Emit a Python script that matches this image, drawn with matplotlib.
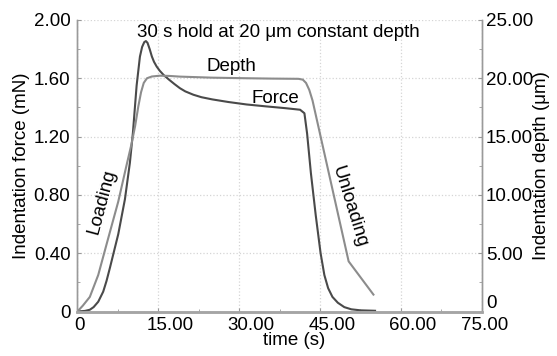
import matplotlib
matplotlib.use('Agg')
import matplotlib.pyplot as plt
from matplotlib.ticker import FuncFormatter, MultipleLocator
from matplotlib.transforms import ScaledTranslation

plt.rcParams['font.family'] = ['Liberation Sans', 'DejaVu Sans']

# Force (mN) vs time (s)
t_force = [0, 1.4, 2.3, 3.0, 3.86, 4.78, 5.4, 6.03, 7.57, 8.81, 9.73, 10.3, 10.98,
           11.59, 12.0, 12.4, 12.7, 13.0, 13.4, 13.8, 14.2, 14.7, 15.3, 16.0, 17.0,
           18.0, 19.0, 20.0, 21.5, 23.0, 25.0, 28.0, 31.4, 35.0, 38.5, 41.3, 42.1,
           42.6, 43.3, 44.2, 45.1, 45.8, 46.5, 47.3, 48.3, 49.5, 50.8, 52.5, 55.2]
force = [0, 0.004, 0.012, 0.03, 0.067, 0.136, 0.21, 0.30, 0.53, 0.77, 1.02, 1.23, 1.55,
         1.748, 1.815, 1.848, 1.855, 1.843, 1.80, 1.75, 1.713, 1.68, 1.65, 1.622, 1.59,
         1.56, 1.532, 1.51, 1.487, 1.47, 1.455, 1.437, 1.42, 1.407, 1.395, 1.384, 1.36,
         1.22, 0.95, 0.66, 0.40, 0.25, 0.16, 0.10, 0.06, 0.03, 0.015, 0.008, 0.005]

# Depth (um) vs time (s)
t_depth = [0, 1.0, 2.3, 3.86, 5.71, 7.57, 9.12, 10.0, 10.7, 11.3, 11.8, 12.3, 12.9,
           13.8, 15.3, 17.0, 19.0, 25.0, 31.4, 36.0, 41.0, 41.8, 42.4, 43.0, 43.6,
           50.3, 54.9]
depth = [0, 0.5, 1.25, 3.13, 6.28, 9.42, 12.56, 14.3, 15.9, 17.6, 18.8, 19.6, 20.0,
         20.15, 20.22, 20.2, 20.14, 20.05, 20.0, 19.97, 19.95, 19.88, 19.6, 19.0, 18.1,
         4.3, 1.45]

x_ticks = [0, 15, 30, 45, 60, 75]
force_ticks = [0, 0.4, 0.8, 1.2, 1.6, 2.0]
depth_ticks = [0, 5, 10, 15, 20, 25]

def fmt(v, p):
    return '0' if abs(v) < 1e-9 else '%.2f' % v

fs = 13.5
fig = plt.figure(figsize=(5.57, 3.56), dpi=100)
ax = fig.add_axes([0.139, 0.125, 0.726, 0.819])
ax2 = ax.twinx()

ax.plot(t_force, force, color='#4a4a4a', lw=1.5)
ax2.plot(t_depth, depth, color='#8c8c8c', lw=1.5)

ax.set_xlim(0, 75)
ax.set_ylim(0, 2)
ax2.set_ylim(0, 25)
ax.set_xticks(x_ticks)
ax.set_yticks(force_ticks)
ax2.set_yticks(depth_ticks)
ax.xaxis.set_minor_locator(MultipleLocator(7.5))
ax.yaxis.set_minor_locator(MultipleLocator(0.2))
ax2.yaxis.set_minor_locator(MultipleLocator(2.5))
ax.xaxis.set_major_formatter(FuncFormatter(fmt))
ax.yaxis.set_major_formatter(FuncFormatter(fmt))
ax2.yaxis.set_major_formatter(FuncFormatter(fmt))

ax.grid(True, color='#d5d5d5', linestyle=':', lw=0.9)
for a in (ax, ax2):
    a.spines['top'].set_visible(False)
    for s in ('left', 'right'):
        a.spines[s].set_color('#9a9a9a')
        a.spines[s].set_linewidth(1.0)
    a.spines['bottom'].set_color('#a5a5a5')
    a.spines['bottom'].set_linewidth(1.8)
    a.tick_params(which='major', direction='in', length=3, color='#999999', labelsize=fs)
    a.tick_params(which='minor', direction='in', length=2, color='#999999')
ax.tick_params(axis='y', pad=5)
ax.tick_params(axis='x', pad=4)
ax2.tick_params(axis='y', pad=3)

# x tick labels sit a bit right of their ticks in the original
shifts = [2, 12, 12, 12, 12, 3]
for lab, dx in zip(ax.get_xticklabels(), shifts):
    lab.set_transform(lab.get_transform() + ScaledTranslation(dx / 100, 0, fig.dpi_scale_trans))
ax2.get_yticklabels()[0].set_va('bottom')

ax.set_xlabel('time (s)', fontsize=fs)
ax.set_ylabel('Indentation force (mN)', fontsize=fs)
ax2.set_ylabel('Indentation depth (\u03bcm)', fontsize=fs)
ax.xaxis.set_label_coords(0.535, -0.07)
ax.yaxis.set_label_coords(-0.117, 0.5)
ax2.yaxis.set_label_coords(1.127, 0.5)

ax.text(37.36, 1.883, '30 s hold at 20 \u03bcm constant depth', fontsize=fs, ha='center', va='baseline')
ax.text(28.55, 1.652, 'Depth', fontsize=fs, ha='center', va='baseline')
ax.text(36.8, 1.428, 'Force', fontsize=fs, ha='center', va='baseline')
ax.text(4.54, 0.751, 'Loading', fontsize=fs, ha='center', va='center', rotation=75, rotation_mode='anchor')
ax.text(50.34, 0.717, 'Unloading', fontsize=fs, ha='center', va='center', rotation=-72.6, rotation_mode='anchor')

fig.savefig('out.png', dpi=100)
